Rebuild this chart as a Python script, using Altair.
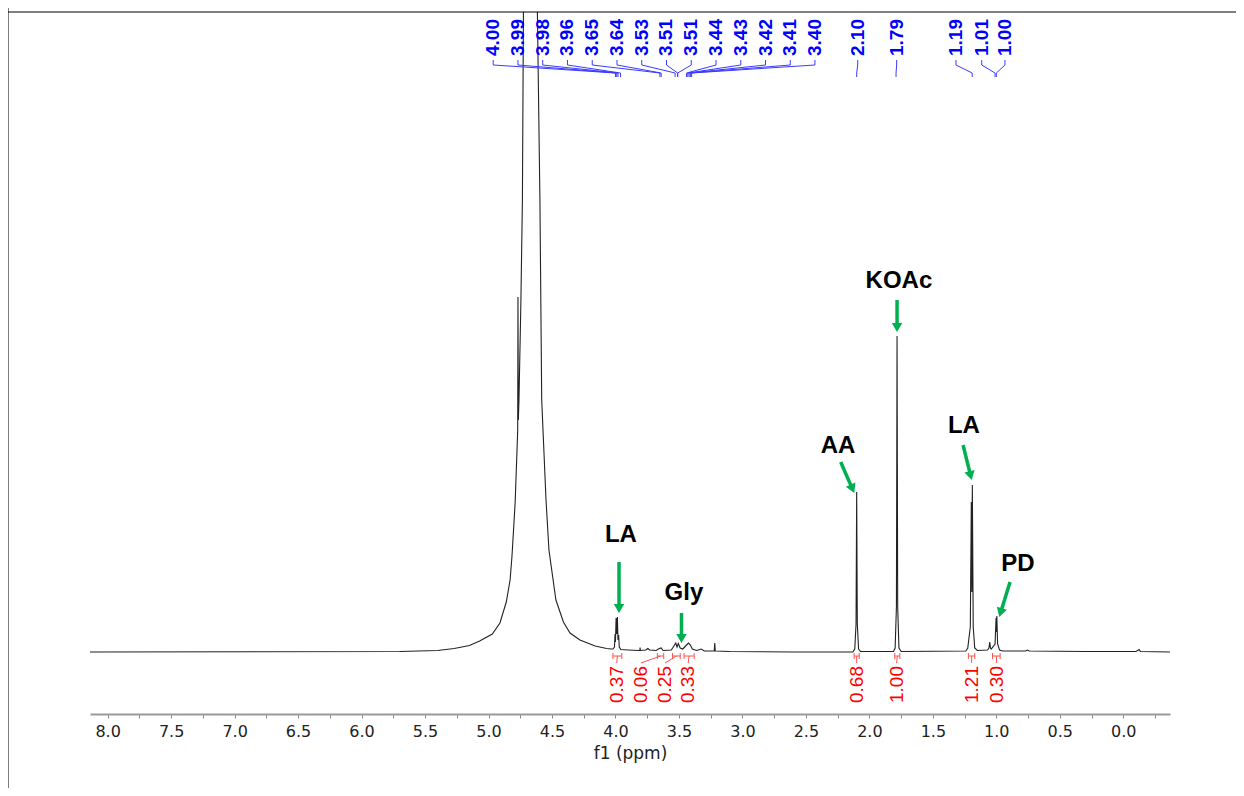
import math
import altair as alt
import pandas as pd

# ---------------- spectrum (ppm, intensity in a.u.) ----------------
ppm = [8.14, 5.70, 5.40, 5.27, 5.15, 5.07, 4.97, 4.91, 4.86, 4.83, 4.815, 4.79, 4.776,
       4.770, 4.768, 4.765, 4.760, 4.745, 4.733, 4.725, 4.70, 4.67, 4.64, 4.615, 4.595,
       4.581, 4.547, 4.524, 4.469, 4.41, 4.358, 4.28, 4.16, 4.07, 4.03,
       4.020, 4.008, 4.003, 4.000, 3.995, 3.990, 3.985, 3.980, 3.975, 3.970, 3.958,
       3.90, 3.82, 3.808, 3.806, 3.804, 3.76, 3.745, 3.73, 3.68, 3.655, 3.640, 3.625,
       3.56, 3.535, 3.525, 3.515, 3.505, 3.49, 3.47, 3.44, 3.425, 3.41, 3.395, 3.36,
       3.325, 3.30, 3.222, 3.218, 3.214, 3.10, 2.60,
       2.13, 2.115, 2.105, 2.100, 2.095, 2.085, 2.07,
       1.81, 1.797, 1.787, 1.782, 1.777, 1.767, 1.75,
       1.24, 1.225, 1.205, 1.197, 1.193, 1.189, 1.182, 1.17, 1.15,
       1.07, 1.058, 1.052, 1.046, 1.040, 1.010, 1.002, 0.999, 0.996, 0.990, 0.975, 0.95,
       0.77, 0.755, 0.74, 0.30, -0.10, -0.125, -0.135, -0.368]
intensity = [0, 0.5, 1.5, 3.5, 6.5, 11, 18, 29, 50, 72, 96, 150, 200,
             222, 355, 232, 252, 350, 452, 640, 1100, 1500, 1100, 640, 452,
             252, 152, 102, 52, 30, 19, 12, 6, 3.5, 3,
             3, 5, 18, 10, 34, 18, 35, 12, 17, 5, 2.5,
             2, 1.5, 1.5, 4.5, 1.5, 2, 3.5, 2, 1.5, 3.5, 4, 1.5,
             2, 7, 9, 5, 8.5, 4, 3, 7, 9, 7, 3, 1.5,
             3, 1, 1, 9, 1, 0.5, 0,
             0, 3, 28, 160, 28, 3, 0.5,
             0.5, 4, 45, 316, 45, 4, 0.5,
             1, 4, 25, 150, 60, 167, 25, 4, 1.5,
             2, 4, 10, 4, 3, 8, 34, 20, 36, 8, 2, 1,
             1, 2, 1, 0.5, 0.5, 2.5, 0.5, 0]

# ---------------- peak-picking labels (blue) ----------------
pick_text = ["4.00", "3.99", "3.98", "3.96", "3.65", "3.64", "3.53", "3.51", "3.51",
             "3.44", "3.43", "3.42", "3.41", "3.40", "2.10", "1.79", "1.19", "1.01", "1.00"]
pick_peak = [4.00, 3.99, 3.98, 3.96, 3.65, 3.64, 3.53, 3.51, 3.51,
             3.44, 3.43, 3.42, 3.41, 3.40, 2.10, 1.79, 1.19, 1.01, 1.00]
pick_label_pos = [4.963, 4.768, 4.573, 4.378, 4.183, 3.988, 3.793, 3.598, 3.403,
                  3.208, 3.013, 2.818, 2.623, 2.429, 2.092, 1.785, 1.318, 1.115, 0.932]

# ---------------- integrals (red) ----------------
int_text = ["0.37", "0.06", "0.25", "0.33", "0.68", "1.00", "1.21", "0.30"]
int_lo = [3.95, 3.62, 3.49, 3.38, 2.08, 1.76, 1.17, 0.97]
int_hi = [4.02, 3.67, 3.55, 3.46, 2.12, 1.80, 1.22, 1.03]
int_label_pos = [3.99, 3.80, 3.61, 3.427, 2.10, 1.785, 1.194, 0.997]

# ---------------- compound annotations ----------------
ann_text = ["LA", "Gly", "AA", "KOAc", "LA", "PD"]
ann_x = [3.957, 3.461, 2.247, 1.767, 1.255, 0.829]
ann_y = [117, 59, 206, 371, 226, 88.5]
arrow_x0 = [3.972, 3.480, 2.226, 1.782, 1.262, 0.892]
arrow_y0 = [90, 39, 190, 352, 207, 70]
arrow_x1 = [3.972, 3.480, 2.119, 1.782, 1.194, 0.977]
arrow_y1 = [39, 9, 159, 320, 172, 35]

tick_values = [8.0, 7.75, 7.5, 7.25, 7.0, 6.75, 6.5, 6.25, 6.0, 5.75, 5.5, 5.25, 5.0,
               4.75, 4.5, 4.25, 4.0, 3.75, 3.5, 3.25, 3.0, 2.75, 2.5, 2.25, 2.0, 1.75,
               1.5, 1.25, 1.0, 0.75, 0.5, 0.25, 0.0, -0.25]

# ---------------- layout / style ----------------
W, H = 1080, 702
XDOM = [-0.368, 8.139]
YDOM = [-62, 640]
PX_PER_PPM = W / (XDOM[1] - XDOM[0])
PX_PER_UNIT = H / (YDOM[1] - YDOM[0])
GREEN = "#00b050"
BLUE = "#0000ff"
RED = "#ff0000"

xaxis = alt.Axis(values=tick_values,
                 labelExpr="abs(datum.value*2 - round(datum.value*2)) < 0.01 ? format(datum.value, '.1f') : ''",
                 title="f1 (ppm)", grid=False, domainColor="#999999", domainWidth=2,
                 tickColor="#888888", tickSize=4, tickWidth=1, labelPadding=5,
                 labelFont="DejaVu Sans", labelFontSize=16, labelColor="#222222",
                 labelOverlap=False, labelFlush=False,
                 titleFont="DejaVu Sans", titleFontSize=17, titleFontWeight="normal",
                 titleColor="#222222", titlePadding=6)
xscale = alt.Scale(domain=XDOM, reverse=True, nice=False, zero=False)
yscale = alt.Scale(domain=YDOM, nice=False, zero=False)


def X(field="ppm"):
    return alt.X(f"{field}:Q", scale=xscale, axis=xaxis)


def Y(field="h"):
    return alt.Y(f"{field}:Q", scale=yscale, axis=None)


spec_df = pd.DataFrame({"ppm": ppm, "h": intensity, "i": range(len(ppm))})
spectrum = alt.Chart(spec_df).mark_line(color="#222222", strokeWidth=1.1, clip=True).encode(
    x=X(), y=Y(), order="i:Q")

# blue connectors
rows = []
for k, (lp, pk) in enumerate(zip(pick_label_pos, pick_peak)):
    rows += [(k, 0, lp, 592), (k, 1, lp, 587), (k, 2, pk, 579), (k, 3, pk, 575)]
conn_df = pd.DataFrame(rows, columns=["k", "o", "ppm", "h"])
connectors = alt.Chart(conn_df).mark_line(color="#3a3aff", strokeWidth=1).encode(
    x=X(), y=Y(), detail="k:N", order="o:Q")
pick_df = pd.DataFrame({"ppm": pick_label_pos, "t": pick_text, "h": [596] * len(pick_text)})
pick_labels = alt.Chart(pick_df).mark_text(
    angle=270, align="left", baseline="middle", font="Liberation Sans", fontWeight="bold",
    fontSize=19, color=BLUE).encode(x=X(), y=Y(), text="t:N")

# red integrals
int_df = pd.DataFrame({"lo": int_lo, "hi": int_hi, "lab": int_label_pos, "t": int_text,
                       "mid": [(a + b) / 2 for a, b in zip(int_lo, int_hi)]})
int_df["yb"] = -4
int_df["ye0"] = -1
int_df["ye1"] = -7
int_df["ys"] = -11
int_df["yt"] = -51
bar = alt.Chart(int_df).mark_rule(color="#ff5050", strokeWidth=1).encode(
    x=X("lo"), x2="hi:Q", y=Y("yb"))
end_lo = alt.Chart(int_df).mark_rule(color="#ff5050", strokeWidth=1).encode(
    x=X("lo"), y=Y("ye0"), y2="ye1:Q")
end_hi = alt.Chart(int_df).mark_rule(color="#ff5050", strokeWidth=1).encode(
    x=X("hi"), y=Y("ye0"), y2="ye1:Q")
stem = alt.Chart(int_df).mark_rule(color="#ff5050", strokeWidth=1).encode(
    x=X("mid"), x2="lab:Q", y=Y("yb"), y2="ys:Q")
int_labels = alt.Chart(int_df).mark_text(
    angle=270, align="left", baseline="middle", font="Liberation Sans", fontSize=19,
    color=RED).encode(x=X("lab"), y=Y("yt"), text="t:N")

# green arrows
HEAD = 110
head_r = math.sqrt(HEAD) / 2 * math.sqrt(3) / 2
arows = []
for x0, y0, x1, y1 in zip(arrow_x0, arrow_y0, arrow_x1, arrow_y1):
    dxp = -(x1 - x0) * PX_PER_PPM
    dyp = -(y1 - y0) * PX_PER_UNIT
    L = math.hypot(dxp, dyp)
    ux, uy = dxp / L, dyp / L
    cx = x1 + (ux * head_r) / PX_PER_PPM
    cy = y1 + (uy * head_r) / PX_PER_UNIT
    ang = math.degrees(math.atan2(dxp, -dyp)) % 360
    arows.append((x0, y0, cx, cy, ang))
arr_df = pd.DataFrame(arows, columns=["ppm", "h", "cx", "cy", "ang"])
shafts = alt.Chart(arr_df).mark_rule(color=GREEN, strokeWidth=3.5).encode(
    x=X(), x2="cx:Q", y=Y(), y2="cy:Q")
heads = alt.Chart(arr_df).mark_point(shape="triangle-up", filled=True, size=HEAD,
                                     color=GREEN, opacity=1, strokeWidth=0).encode(
    x=X("cx"), y=Y("cy"), angle=alt.Angle("ang:Q", scale=None))
ann_df = pd.DataFrame({"ppm": ann_x, "h": ann_y, "t": ann_text})
ann = alt.Chart(ann_df).mark_text(font="Liberation Sans", fontWeight="bold", fontSize=24,
                                  color="black", align="center", baseline="middle").encode(
    x=X(), y=Y(), text="t:N")

# figure frame (top and left border of the original figure)
frame_df = pd.DataFrame({"a": [0]})
frame_left = alt.Chart(frame_df).mark_rule(color="black", strokeWidth=1).encode(
    x=alt.value(-82), y=alt.value(-4), y2=alt.value(H + 74))
frame_top = alt.Chart(frame_df).mark_rule(color="black", strokeWidth=1).encode(
    x=alt.value(-82), x2=alt.value(W + 66), y=alt.value(0))

chart = alt.layer(
    spectrum, connectors, pick_labels, bar, end_lo, end_hi, stem, int_labels,
    shafts, heads, ann, frame_left, frame_top
).properties(
    width=W, height=H,
    background="white",
    autosize=alt.AutoSizeParams(type="none"),
    padding={"left": 82, "top": 4, "right": 66, "bottom": 74},
).configure_view(strokeWidth=0, stroke="transparent")

chart.save("out.html", embed_options={"renderer": "svg", "actions": False})
